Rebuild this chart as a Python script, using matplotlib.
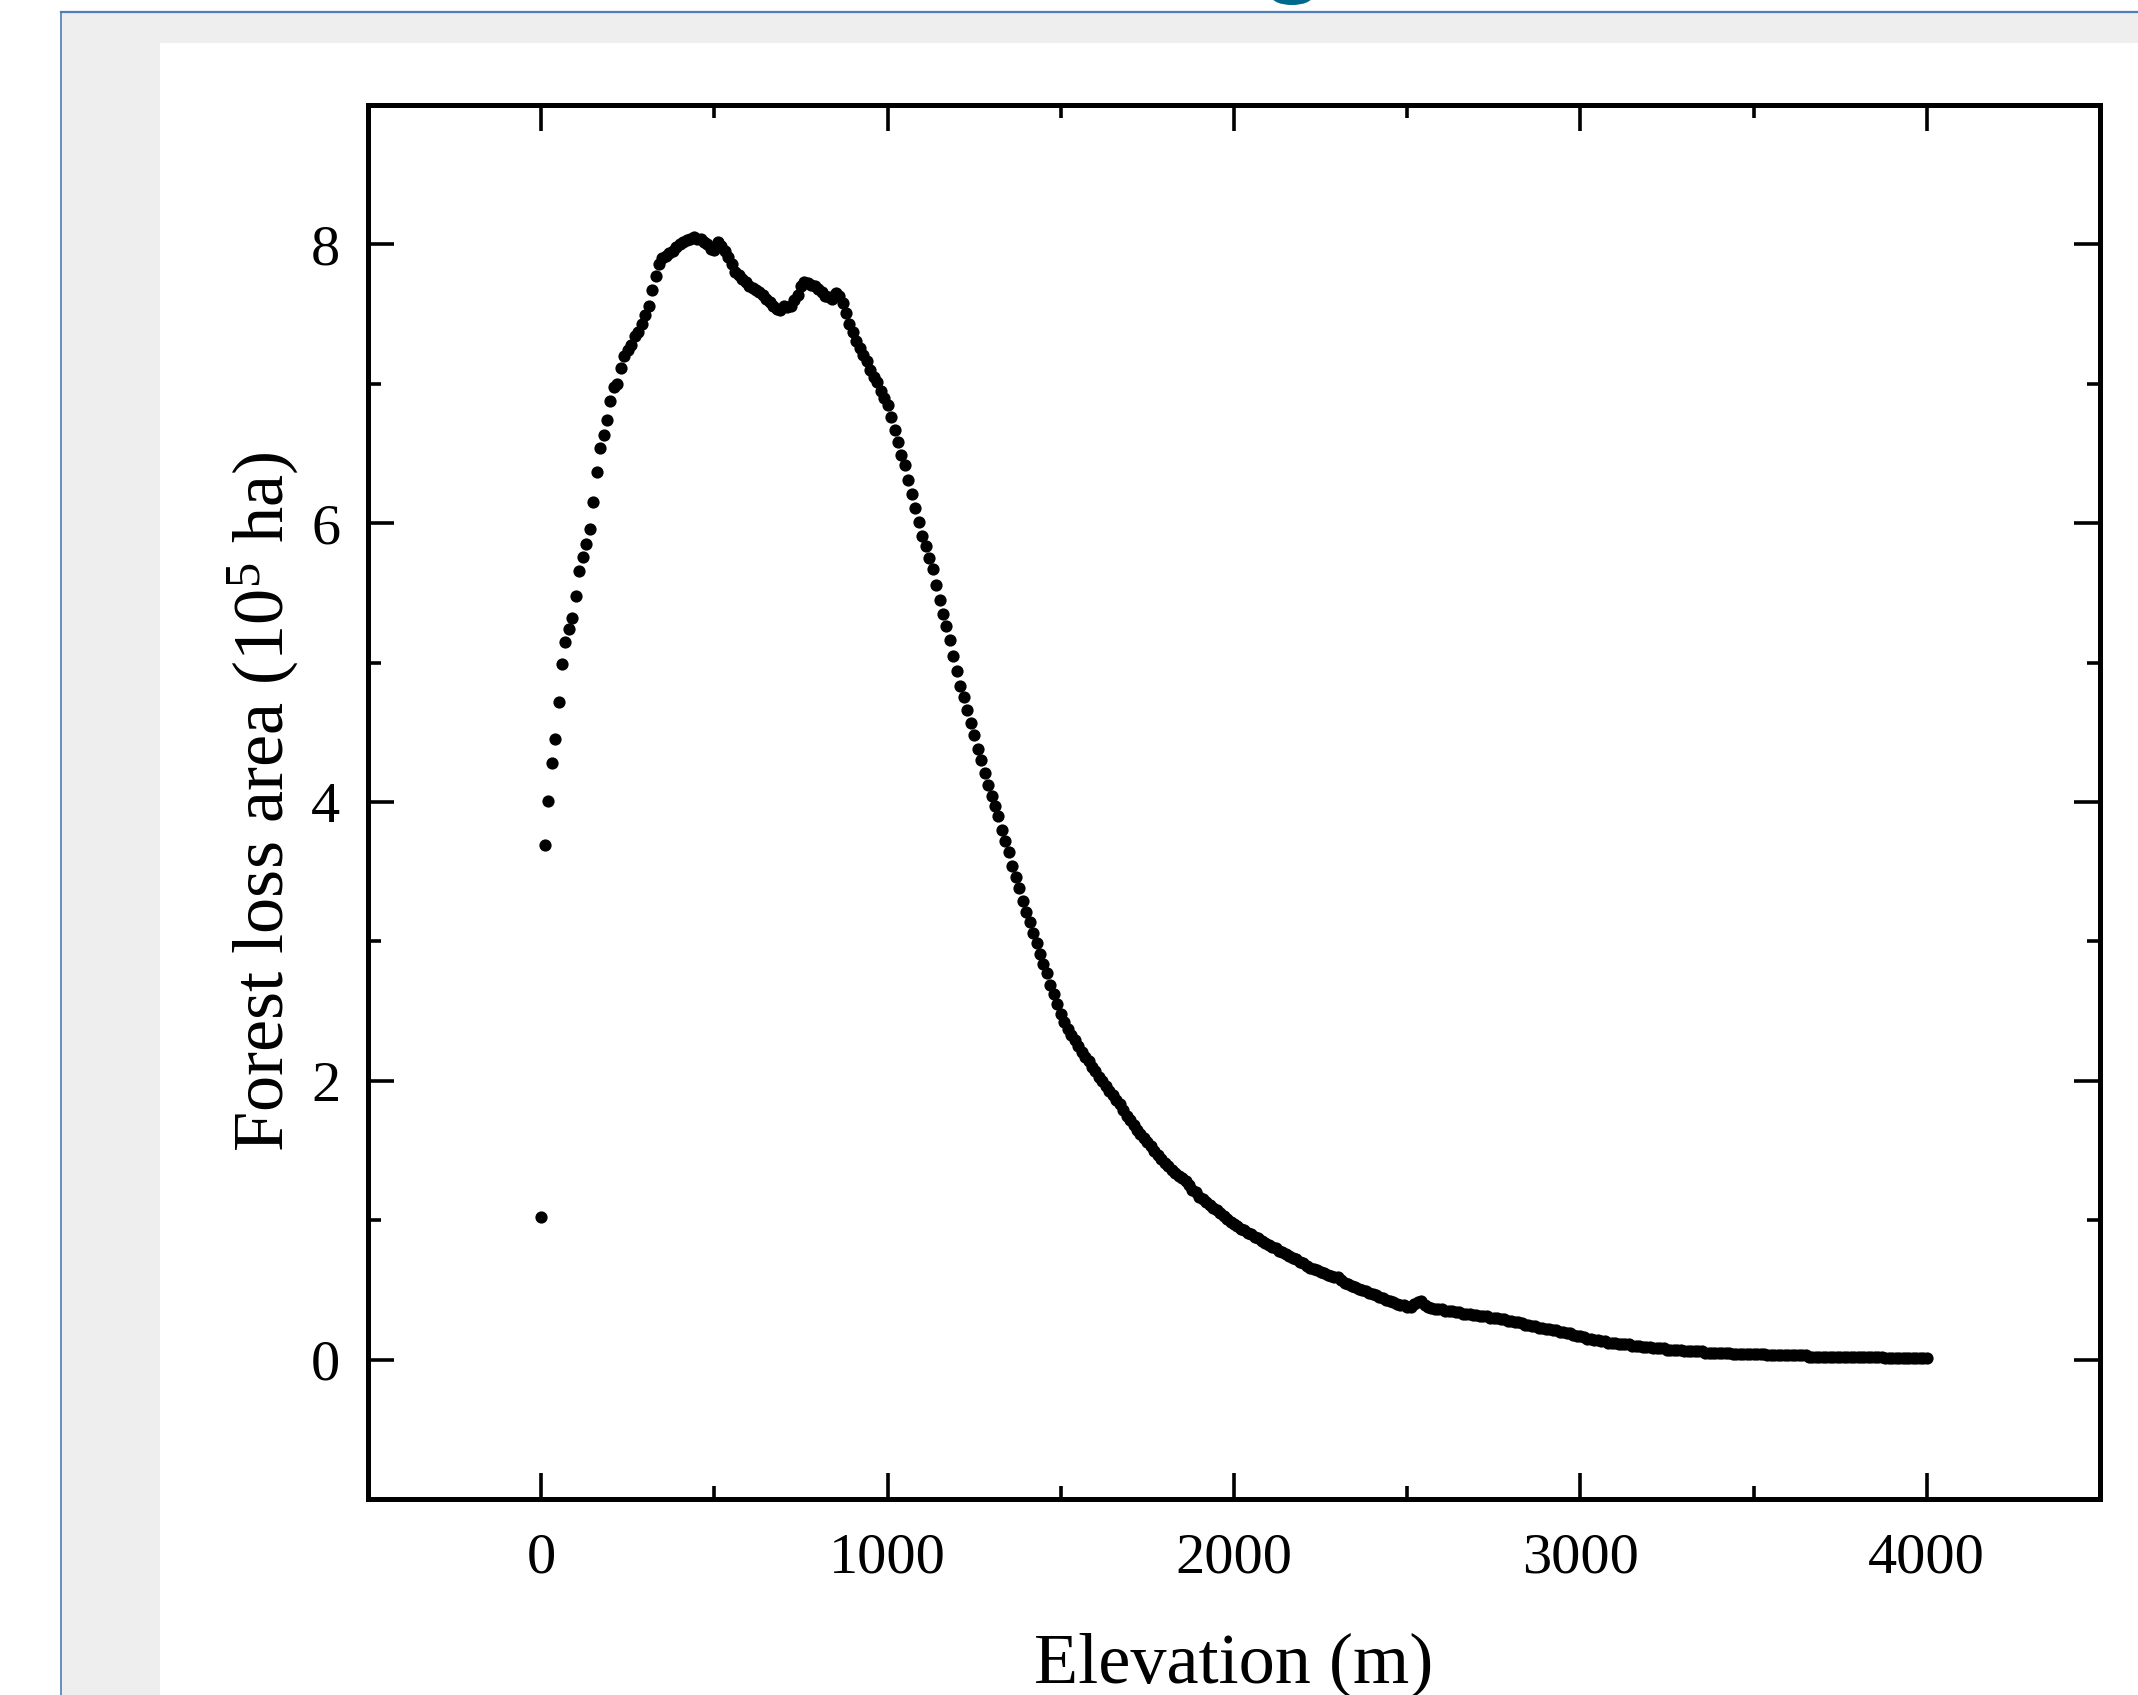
#!/usr/bin/env python3
"""Forest loss area along elevation, dot profile at 10 m bins."""

from __future__ import annotations

import numpy as np

import matplotlib

matplotlib.use("Agg")
import matplotlib.pyplot as plt
from matplotlib.lines import Line2D
from matplotlib.patches import Ellipse, Rectangle


# elevation bins (m), one every 10 m from 0 to 4000
ELEVATION = np.arange(0, 4001, 10)

# forest loss area (10^5 ha), one row per 100 m
LOSS_AREA = [
    1.02, 3.69, 4.01, 4.28, 4.45, 4.72, 4.99, 5.15, 5.24, 5.32,
    5.48, 5.66, 5.76, 5.85, 5.96, 6.15, 6.37, 6.54, 6.63, 6.74,
    6.88, 6.98, 7.00, 7.11, 7.20, 7.24, 7.28, 7.34, 7.37, 7.43,
    7.49, 7.56, 7.67, 7.77, 7.86, 7.90, 7.92, 7.94, 7.95, 7.98,
    8.00, 8.02, 8.03, 8.04, 8.05, 8.04, 8.04, 8.02, 8.00, 7.97,
    7.96, 8.02, 7.99, 7.95, 7.91, 7.86, 7.80, 7.78, 7.75, 7.73,
    7.70, 7.69, 7.67, 7.66, 7.64, 7.61, 7.59, 7.56, 7.54, 7.53,
    7.56, 7.55, 7.56, 7.60, 7.64, 7.70, 7.73, 7.72, 7.71, 7.70,
    7.68, 7.66, 7.63, 7.62, 7.61, 7.65, 7.63, 7.58, 7.51, 7.43,
    7.37, 7.31, 7.26, 7.21, 7.16, 7.10, 7.05, 7.01, 6.95, 6.90,
    6.85, 6.76, 6.67, 6.58, 6.49, 6.42, 6.31, 6.21, 6.11, 6.01,
    5.91, 5.84, 5.75, 5.67, 5.56, 5.45, 5.35, 5.26, 5.16, 5.05,
    4.94, 4.83, 4.75, 4.66, 4.57, 4.48, 4.38, 4.30, 4.21, 4.12,
    4.04, 3.97, 3.90, 3.80, 3.72, 3.64, 3.54, 3.46, 3.38, 3.29,
    3.21, 3.14, 3.06, 2.99, 2.91, 2.84, 2.77, 2.69, 2.62, 2.55,
    2.48, 2.42, 2.37, 2.33, 2.29, 2.25, 2.21, 2.17, 2.14, 2.10,
    2.07, 2.03, 2.00, 1.96, 1.93, 1.90, 1.86, 1.83, 1.79, 1.75,
    1.72, 1.68, 1.65, 1.62, 1.59, 1.56, 1.53, 1.50, 1.47, 1.44,
    1.41, 1.39, 1.36, 1.34, 1.32, 1.30, 1.28, 1.25, 1.22, 1.20,
    1.17, 1.15, 1.13, 1.11, 1.09, 1.07, 1.05, 1.03, 1.01, 0.99,
    0.97, 0.96, 0.94, 0.93, 0.91, 0.90, 0.88, 0.87, 0.85, 0.84,
    0.82, 0.81, 0.80, 0.78, 0.77, 0.76, 0.74, 0.73, 0.72, 0.70,
    0.69, 0.67, 0.66, 0.65, 0.64, 0.63, 0.62, 0.61, 0.60, 0.59,
    0.59, 0.57, 0.55, 0.54, 0.53, 0.52, 0.51, 0.50, 0.49, 0.48,
    0.47, 0.46, 0.45, 0.44, 0.43, 0.42, 0.41, 0.40, 0.39, 0.39,
    0.38, 0.38, 0.40, 0.41, 0.42, 0.39, 0.38, 0.37, 0.36, 0.36,
    0.36, 0.35, 0.35, 0.35, 0.34, 0.34, 0.33, 0.33, 0.33, 0.32,
    0.32, 0.31, 0.31, 0.31, 0.30, 0.30, 0.30, 0.29, 0.29, 0.28,
    0.28, 0.27, 0.27, 0.26, 0.25, 0.25, 0.24, 0.24, 0.23, 0.23,
    0.22, 0.22, 0.21, 0.21, 0.20, 0.20, 0.19, 0.19, 0.18, 0.17,
    0.17, 0.16, 0.15, 0.15, 0.14, 0.14, 0.13, 0.13, 0.12, 0.12,
    0.12, 0.11, 0.11, 0.11, 0.11, 0.10, 0.10, 0.10, 0.09, 0.09,
    0.09, 0.08, 0.08, 0.08, 0.08, 0.07, 0.07, 0.07, 0.07, 0.07,
    0.06, 0.06, 0.06, 0.06, 0.06, 0.06, 0.05, 0.05, 0.05, 0.05,
    0.05, 0.05, 0.05, 0.05, 0.04, 0.04, 0.04, 0.04, 0.04, 0.04,
    0.04, 0.04, 0.04, 0.04, 0.03, 0.03, 0.03, 0.03, 0.03, 0.03,
    0.03, 0.03, 0.03, 0.03, 0.03, 0.03, 0.02, 0.02, 0.02, 0.02,
    0.02, 0.02, 0.02, 0.02, 0.02, 0.02, 0.02, 0.02, 0.02, 0.02,
    0.02, 0.02, 0.02, 0.02, 0.02, 0.02, 0.02, 0.02, 0.01, 0.01,
    0.01, 0.01, 0.01, 0.01, 0.01, 0.01, 0.01, 0.01, 0.01, 0.01,
    0.01,
]

X_TICKS = [0, 1000, 2000, 3000, 4000]
Y_TICKS = [0, 2, 4, 6, 8]
X_LABEL = "Elevation (m)"
Y_LABEL = r"Forest loss area (10$^{\mathrm{5}}$ ha)"

W, H = 2138, 1695
DPI = 100
SERIF = "Liberation Serif"


def px_box(x0: float, y0: float, x1: float, y1: float) -> list[float]:
    """Pixel box (top-left origin) -> figure fraction [left, bottom, width, height]."""
    return [x0 / W, 1 - y1 / H, (x1 - x0) / W, (y1 - y0) / H]


def draw_frame(fig: plt.Figure) -> None:
    # grey page area with the blue window border, then the white plot card
    l, b, w, h = px_box(61, 12, W, H)
    fig.patches.append(Rectangle((l, b), w, h, transform=fig.transFigure, facecolor="#EEEEEE", edgecolor="none", zorder=0))
    l, b, w, h = px_box(160, 43, W, H)
    fig.patches.append(Rectangle((l, b), w, h, transform=fig.transFigure, facecolor="white", edgecolor="none", zorder=1))
    border = "#4F7DB5"
    fig.lines.append(Line2D([61 / W, 1], [1 - 12 / H, 1 - 12 / H], transform=fig.transFigure, color=border, lw=1.6, zorder=2))
    fig.lines.append(Line2D([61 / W, 61 / W], [0, 1 - 12 / H], transform=fig.transFigure, color=border, lw=1.2, zorder=2))
    # tail of the clipped heading glyph poking in above the window
    fig.patches.append(
        Ellipse((1292 / W, 1 + 3 / H), 40 / W, 16 / H, transform=fig.transFigure, facecolor="#00698C", edgecolor="none", zorder=2)
    )


def main() -> None:
    plt.rcParams["font.family"] = [SERIF, "DejaVu Serif"]
    plt.rcParams["mathtext.fontset"] = "custom"
    plt.rcParams["mathtext.rm"] = SERIF
    plt.rcParams["mathtext.it"] = SERIF + ":italic"

    fig = plt.figure(figsize=(W / DPI, H / DPI), dpi=DPI, facecolor="white")
    draw_frame(fig)

    ax = fig.add_axes(px_box(368, 105, 2100, 1499))
    ax.set_zorder(3)
    ax.plot(ELEVATION, LOSS_AREA, "o", color="black", ms=8.8, mew=0, zorder=4)

    ax.set_xlim(-500, 4500)
    ax.set_ylim(-1, 9)
    ax.set_xticks(X_TICKS)
    ax.set_xticks([500, 1500, 2500, 3500], minor=True)
    ax.set_yticks(Y_TICKS)
    ax.set_yticks([1, 3, 5, 7], minor=True)
    ax.tick_params(which="both", direction="in", top=True, right=True, width=2.6, labelsize=42, colors="black")
    ax.tick_params(which="major", length=19)
    ax.tick_params(which="minor", length=9.5)
    ax.tick_params(axis="x", which="major", pad=24)
    ax.tick_params(axis="y", which="major", pad=20)
    for spine in ax.spines.values():
        spine.set_linewidth(3.6)

    ax.set_xlabel(X_LABEL, fontsize=52, labelpad=35)
    ax.set_ylabel(Y_LABEL, fontsize=52, labelpad=8)

    fig.savefig("out.png", dpi=DPI, facecolor="white")
    plt.close(fig)


if __name__ == "__main__":
    main()
